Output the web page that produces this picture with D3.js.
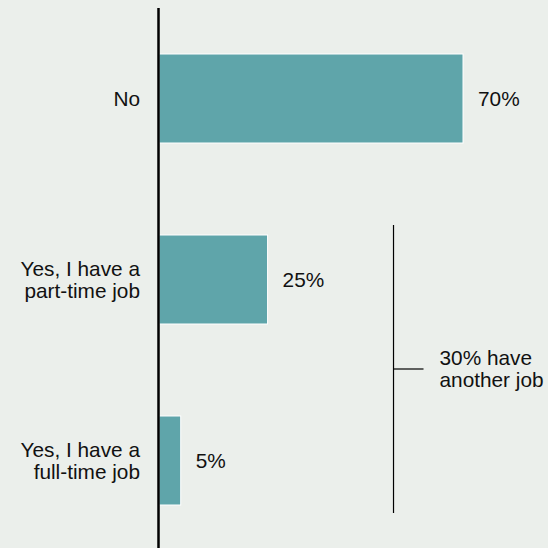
<!DOCTYPE html>
<html>
<head>
<meta charset="utf-8">
<script src="https://cdn.jsdelivr.net/npm/d3@7"></script>
<style>
  html, body { margin: 0; padding: 0; background: #ebefeb; }
  svg { display: block; }
  text { font-family: "Liberation Sans", Arial, sans-serif; fill: #111; }
</style>
</head>
<body>
<svg id="chart" width="548" height="548"></svg>
<script>
// Survey answers: do respondents have another job?
const categories = ["No", "Yes, I have a part-time job", "Yes, I have a full-time job"];
const labelLines = [["No"], ["Yes, I have a", "part-time job"], ["Yes, I have a", "full-time job"]];
const values = [70, 25, 5];
const bracketNote = ["30% have", "another job"];

const W = 548, H = 548;
const svg = d3.select("#chart");

svg.append("rect").attr("width", W).attr("height", H).attr("fill", "#ebefeb");

const x = d3.scaleLinear().domain([0, 70]).range([159, 463]);
const pad = 92 / 181;
const y = d3.scaleBand().domain(categories).range([8, 551])
  .paddingInner(pad).paddingOuter(pad / 2);

const fs = 20.8;

// bars
svg.append("g").selectAll("rect").data(values).join("rect")
  .attr("x", x(0))
  .attr("y", (d, i) => y(categories[i]))
  .attr("width", d => x(d) - x(0))
  .attr("height", y.bandwidth())
  .attr("fill", "#5fa5aa")
  .attr("stroke", "#ffffff")
  .attr("stroke-width", 1);

// value labels
svg.append("g").selectAll("text").data(values).join("text")
  .attr("x", d => x(d) + 15)
  .attr("y", (d, i) => y(categories[i]) + y.bandwidth() / 2)
  .attr("dy", "0.35em")
  .attr("font-size", fs)
  .text(d => d + "%");

// category labels (multi-line, right aligned)
const lh = 22;
const catG = svg.append("g");
categories.forEach((c, i) => {
  const lines = labelLines[i];
  const cy = y(c) + y.bandwidth() / 2;
  const t = catG.append("text")
    .attr("text-anchor", "end")
    .attr("font-size", fs);
  lines.forEach((ln, j) => {
    t.append("tspan")
      .attr("x", 140)
      .attr("y", cy + (j - (lines.length - 1) / 2) * lh)
      .attr("dy", "0.35em")
      .text(ln);
  });
});

// vertical axis line
svg.append("line")
  .attr("x1", 158.5).attr("x2", 158.5)
  .attr("y1", 8).attr("y2", H)
  .attr("stroke", "#000").attr("stroke-width", 2.5);

// bracket grouping the two "yes" answers
const bx = x(54);
const by0 = y(categories[1]) - 10;
const by1 = y(categories[2]) + y.bandwidth() + 8;
const bmid = (by0 + by1) / 2;
const br = svg.append("g").attr("stroke", "#000").attr("stroke-width", 1.2);
br.append("line").attr("x1", bx).attr("x2", bx).attr("y1", by0).attr("y2", by1);
br.append("line").attr("x1", bx).attr("x2", bx + 30).attr("y1", bmid).attr("y2", bmid);

const note = svg.append("text").attr("font-size", fs);
bracketNote.forEach((ln, j) => {
  note.append("tspan")
    .attr("x", bx + 46)
    .attr("y", bmid + (j - 0.5) * lh)
    .attr("dy", "0.35em")
    .text(ln);
});
</script>
</body>
</html>
